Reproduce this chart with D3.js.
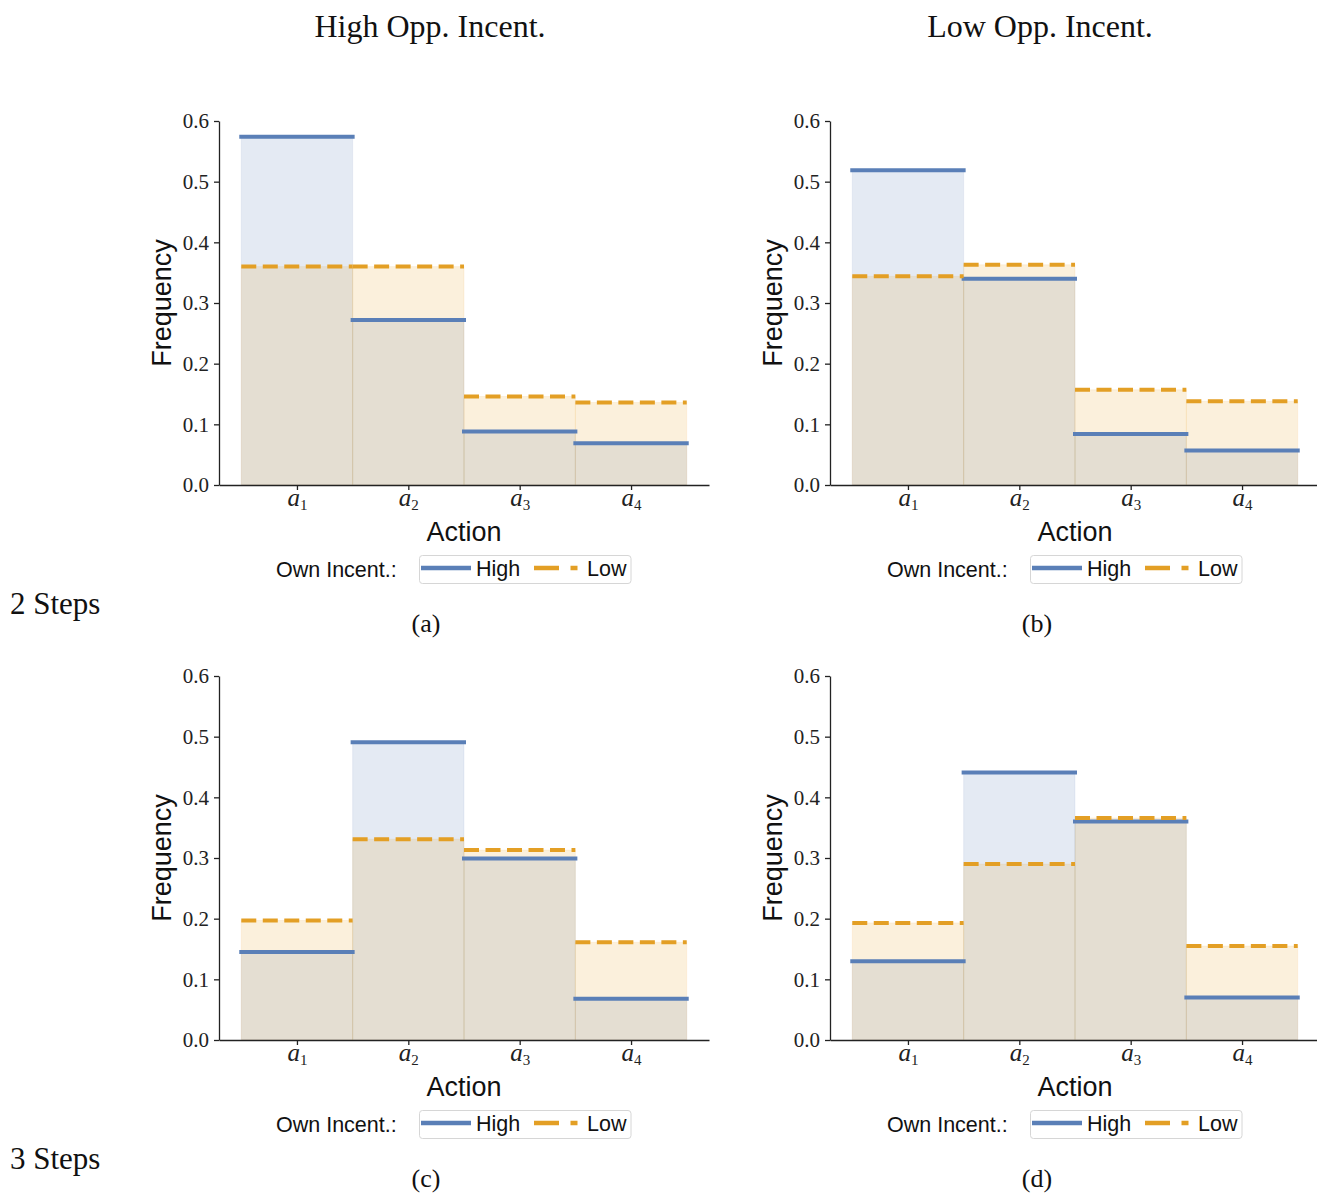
<!DOCTYPE html>
<html>
<head>
<meta charset="utf-8">
<script src="https://cdn.jsdelivr.net/npm/d3@7"></script>
<style>
  html, body { margin: 0; padding: 0; background: #fff; }
  svg { display: block; }
</style>
</head>
<body>
<svg id="chart" width="1317" height="1195"></svg>
<script>
// ---------------- data ----------------
const actions = ["1", "2", "3", "4"];            // subscripts of a_i
const yTicks = [0.0, 0.1, 0.2, 0.3, 0.4, 0.5, 0.6];
const colTitles = ["High Opp. Incent.", "Low Opp. Incent."];
const rowTitles = ["2 Steps", "3 Steps"];
const panelLabels = ["(a)", "(b)", "(c)", "(d)"];
const seriesNames = ["High", "Low"];

const highA = [0.574, 0.272, 0.088, 0.069];
const lowA  = [0.360, 0.360, 0.146, 0.136];
const highB = [0.519, 0.340, 0.084, 0.057];
const lowB  = [0.344, 0.363, 0.157, 0.138];
const highC = [0.145, 0.491, 0.299, 0.068];
const lowC  = [0.197, 0.331, 0.313, 0.161];
const highD = [0.130, 0.441, 0.360, 0.070];
const lowD  = [0.193, 0.290, 0.366, 0.155];

const panels = [
  { high: highA, low: lowA, label: panelLabels[0], col: 0, row: 0 },
  { high: highB, low: lowB, label: panelLabels[1], col: 1, row: 0 },
  { high: highC, low: lowC, label: panelLabels[2], col: 0, row: 1 },
  { high: highD, low: lowD, label: panelLabels[3], col: 1, row: 1 }
];

// ---------------- style ----------------
const BLUE = "#5a7fb7";
const ORANGE = "#e39f25";
const SERIF = "'Liberation Serif', 'DejaVu Serif', serif";
const SANS = "'Liberation Sans', Arial, sans-serif";

const svg = d3.select("#chart");

// column / row titles
const colX = [430, 1040];
colTitles.forEach((t, i) => {
  svg.append("text").attr("x", colX[i]).attr("y", 37)
    .attr("text-anchor", "middle").attr("font-family", SERIF)
    .attr("font-size", 32).attr("fill", "#111").text(t);
});
const rowY = [614, 1169];
rowTitles.forEach((t, i) => {
  svg.append("text").attr("x", 10).attr("y", rowY[i])
    .attr("font-family", SERIF).attr("font-size", 31)
    .attr("fill", "#111").text(t);
});

const DX = 611, DY = 555;

panels.forEach(p => {
  const ox = p.col * DX, oy = p.row * DY;
  const g = svg.append("g").attr("transform", `translate(${ox},${oy})`);

  const x = d3.scaleLinear().domain([0.3, 4.7]).range([219, 709]);
  const y = d3.scaleLinear().domain([0, 0.6]).range([485, 121]);

  const idx = d3.range(actions.length);

  // fills: high (blue) then low (orange)
  const drawFill = (vals, color, op) => {
    g.append("g").selectAll("rect").data(idx).join("rect")
      .attr("x", i => x(i + 0.5))
      .attr("width", i => x(i + 1.5) - x(i + 0.5))
      .attr("y", i => y(vals[i]))
      .attr("height", i => y(0) - y(vals[i]))
      .attr("fill", color).attr("fill-opacity", op)
      .attr("stroke", color).attr("stroke-opacity", op * 0.6)
      .attr("stroke-width", 1);
  };
  drawFill(p.high, "#4c72b0", 0.15);
  drawFill(p.low, "#e5a024", 0.16);

  // step lines
  g.append("g").selectAll("line").data(idx).join("line")
    .attr("x1", i => x(i + 0.5)).attr("x2", i => x(i + 1.5))
    .attr("y1", i => y(p.high[i])).attr("y2", i => y(p.high[i]))
    .attr("stroke", BLUE).attr("stroke-width", 4)
    .attr("stroke-linecap", "square");
  g.append("g").selectAll("line").data(idx).join("line")
    .attr("x1", i => x(i + 0.5)).attr("x2", i => x(i + 1.5))
    .attr("y1", i => y(p.low[i])).attr("y2", i => y(p.low[i]))
    .attr("stroke", ORANGE).attr("stroke-width", 4)
    .attr("stroke-dasharray", "15,6.5");

  // y axis
  const ya = g.append("g").attr("transform", `translate(219,0)`)
    .call(d3.axisLeft(y).tickValues(yTicks).tickFormat(d3.format(".1f"))
      .tickSize(5).tickSizeOuter(0).tickPadding(5));
  ya.select(".domain").attr("stroke", "#222").attr("stroke-width", 1.3);
  ya.selectAll(".tick line").attr("stroke", "#222").attr("stroke-width", 1.3);
  ya.selectAll(".tick text").attr("font-family", SERIF).attr("font-size", 21)
    .attr("fill", "#222");

  // x axis
  const xa = g.append("g").attr("transform", `translate(0,485)`)
    .call(d3.axisBottom(x).tickValues(idx.map(i => i + 1))
      .tickSize(5).tickSizeOuter(0).tickPadding(4).tickFormat(""));
  xa.select(".domain").attr("stroke", "#222").attr("stroke-width", 1.3);
  xa.selectAll(".tick line").attr("stroke", "#222").attr("stroke-width", 1.3);
  xa.selectAll(".tick").each(function(d, i) {
    const t = d3.select(this).select("text");
    t.attr("dy", null).attr("y", 21).attr("font-family", SERIF).attr("fill", "#222");
    t.append("tspan").attr("font-style", "italic").attr("font-size", 25).text("a");
    t.append("tspan").attr("font-size", 15).attr("dy", 4).text(actions[i]);
  });

  // axis titles
  g.append("text").attr("x", 464).attr("y", 541).attr("text-anchor", "middle")
    .attr("font-family", SANS).attr("font-size", 27).attr("fill", "#111").text("Action");
  g.append("text").attr("transform", `translate(171,303) rotate(-90)`)
    .attr("text-anchor", "middle").attr("font-family", SANS).attr("font-size", 27)
    .attr("fill", "#111").text("Frequency");

  // legend
  g.append("text").attr("x", 276).attr("y", 577).attr("font-family", SANS)
    .attr("font-size", 21.5).attr("fill", "#111").text("Own Incent.:");
  g.append("rect").attr("x", 419.5).attr("y", 555.5).attr("width", 211.5).attr("height", 28)
    .attr("rx", 3).attr("fill", "#fff").attr("stroke", "#d6d6d6").attr("stroke-width", 1);
  g.append("line").attr("x1", 421).attr("x2", 471).attr("y1", 568).attr("y2", 568)
    .attr("stroke", BLUE).attr("stroke-width", 4.5);
  g.append("text").attr("x", 476).attr("y", 576).attr("font-family", SANS)
    .attr("font-size", 21.5).attr("fill", "#111").text(seriesNames[0]);
  g.append("line").attr("x1", 534).attr("x2", 578).attr("y1", 568).attr("y2", 568)
    .attr("stroke", ORANGE).attr("stroke-width", 4.5).attr("stroke-dasharray", "25,11.5,7,50");
  g.append("text").attr("x", 587).attr("y", 576).attr("font-family", SANS)
    .attr("font-size", 21.5).attr("fill", "#111").text(seriesNames[1]);

  // panel label
  g.append("text").attr("x", 426).attr("y", 632).attr("text-anchor", "middle")
    .attr("font-family", SERIF).attr("font-size", 26).attr("fill", "#111").text(p.label);
});
</script>
</body>
</html>
